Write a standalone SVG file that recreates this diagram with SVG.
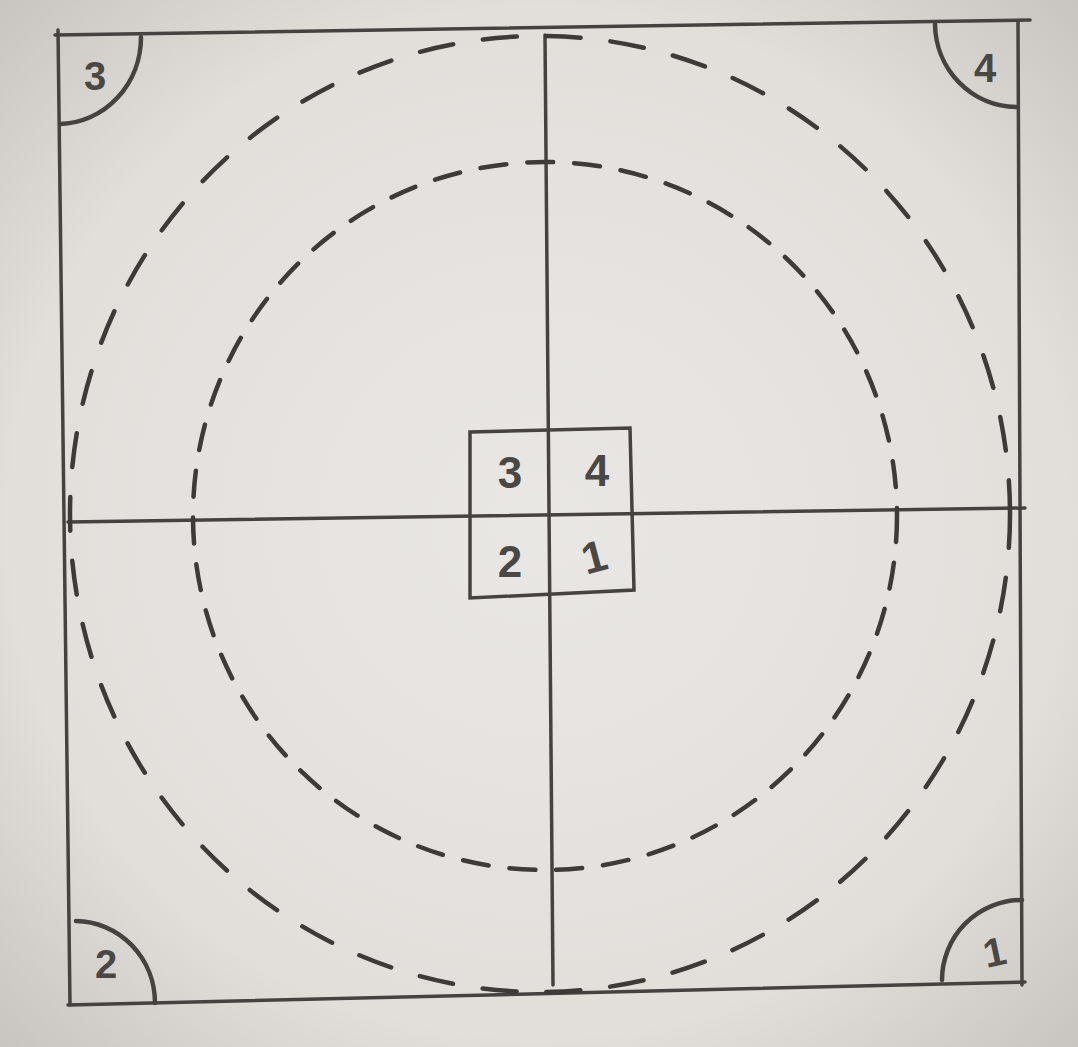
<svg xmlns="http://www.w3.org/2000/svg" width="1078" height="1047" viewBox="0 0 1078 1047">
<defs>
<style>
.ln{fill:none;stroke:#45423f;stroke-width:3.5;stroke-linecap:round}
.arc{fill:none;stroke:#45423f;stroke-width:4.5;stroke-linecap:round}
.dash{fill:none;stroke:#3d3a38;stroke-width:4.5;stroke-linecap:round}
.num{font-family:"Liberation Sans",Arial,sans-serif;fill:#4a4744;text-anchor:middle;font-weight:bold}
.big{font-size:44px}
.sm{font-size:40px}
</style>
<radialGradient id="bg" cx="50%" cy="50%" r="70%">
<stop offset="0" stop-color="#e9e7e4"/>
<stop offset="0.7" stop-color="#e2dfdb"/>
<stop offset="1" stop-color="#c9c6c2"/>
</radialGradient>
</defs>
<rect width="1078" height="1047" fill="url(#bg)"/>
<g id="frame">
<path class="ln" d="M55,35 L1030,20"/>
<path class="ln" d="M58,30 L70,1005"/>
<path class="ln" d="M68,1005 L1025,982"/>
<path class="ln" d="M1018,22 L1022,985"/>
</g>
<g id="connectors">
<path class="ln" d="M545,35 L553,985"/>
<path class="ln" d="M68,522 L1025,508"/>
<ellipse class="dash" cx="545" cy="516" rx="352" ry="354" stroke-dasharray="26 21"/>
<ellipse class="dash" cx="540" cy="514" rx="470" ry="478" stroke-dasharray="34 30"/>
</g>
<g id="corner-3">
<path class="arc" d="M141,37 A83 87 0 0 1 60,124"/>
<text class="num sm" x="95" y="90">3</text>
</g>
<g id="corner-4">
<path class="arc" d="M935,24 A82 84 0 0 0 1016,107"/>
<text class="num sm" x="985" y="82">4</text>
</g>
<g id="corner-2">
<path class="arc" d="M76,921 A80 82 0 0 1 155,1003"/>
<text class="num sm" x="106" y="978">2</text>
</g>
<g id="corner-1">
<path class="arc" d="M1022,900 A80 80 0 0 0 942,980"/>
<text class="num sm" x="994" y="966" transform="rotate(-12 994 950)">1</text>
</g>
<g id="center-box">
<path class="ln" d="M470,432 L630,428 L634,590 L470,598 Z"/>
<text class="num big" x="510" y="488">3</text>
<text class="num big" x="597" y="486">4</text>
<text class="num big" x="510" y="577">2</text>
<text class="num big" x="594" y="572" transform="rotate(-15 594 556)">1</text>
</g>
</svg>
